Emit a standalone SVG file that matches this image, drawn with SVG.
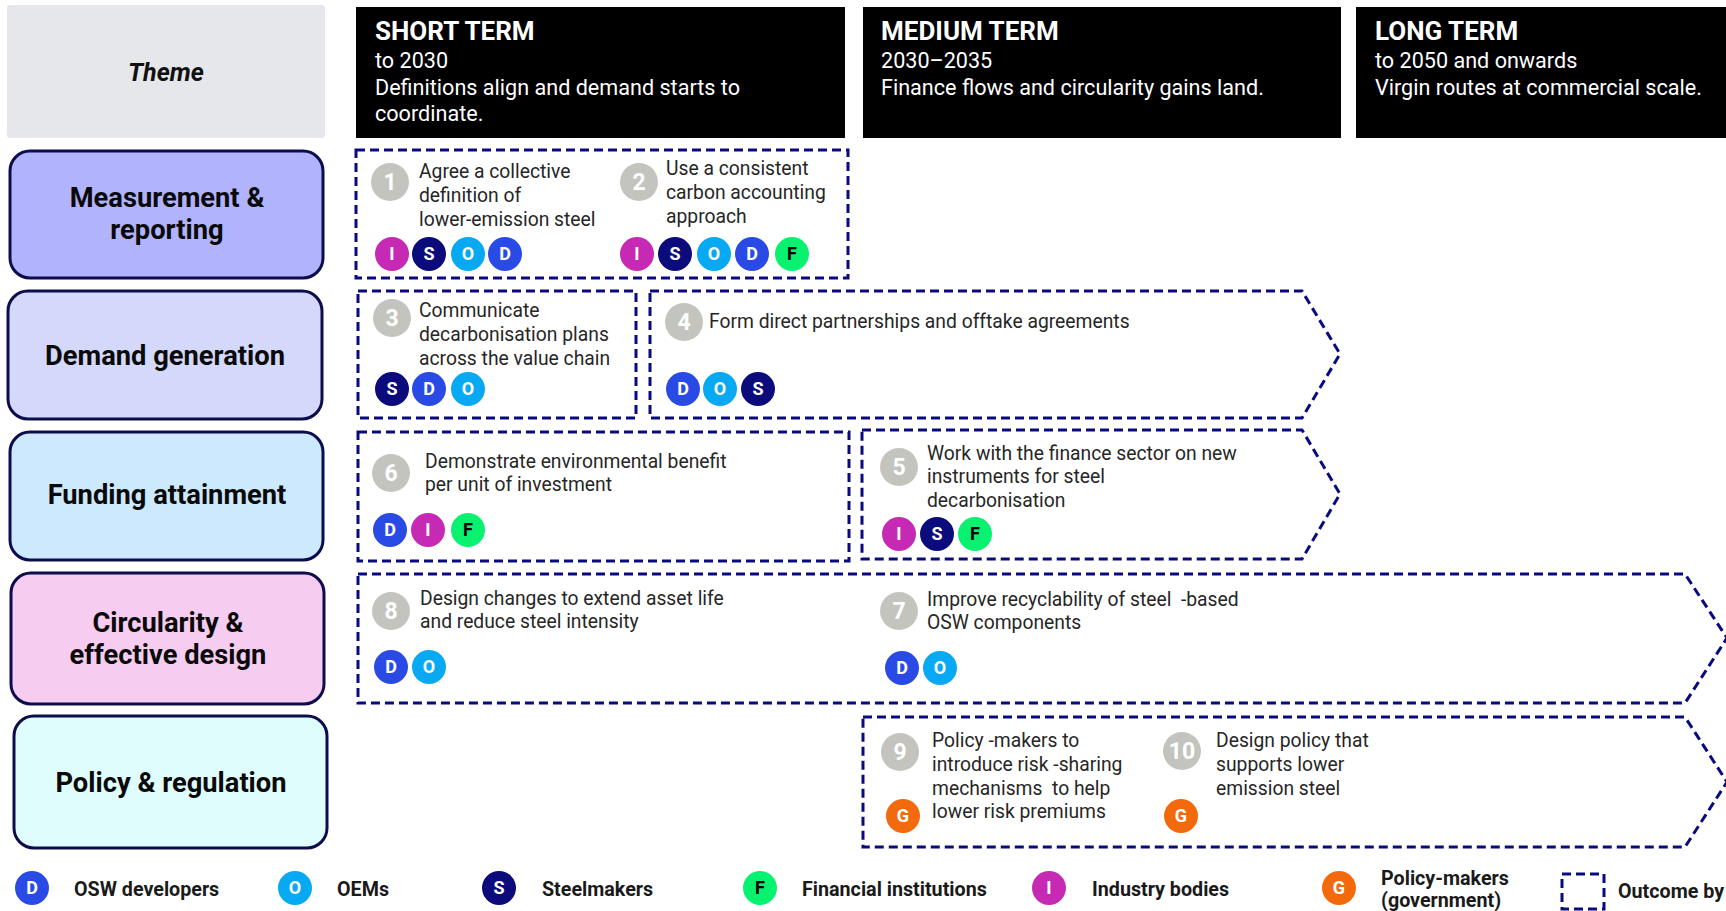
<svg xmlns="http://www.w3.org/2000/svg" width="1726" height="911" viewBox="0 0 1726 911">
<style>
text{font-family:Roboto,"Liberation Sans",sans-serif}
.hd{fill:#000}
.ht{fill:#fff;font-size:26px;font-weight:700}
.hs{fill:#fff;font-size:21.6px}
.row{stroke:#0d0d4d;stroke-width:3}
.rl{font-size:27.3px;font-weight:700;fill:#0a0a0a;text-anchor:middle}
.ob{fill:none;stroke:#0a0a80;stroke-width:3;stroke-dasharray:9 5}
.num{fill:#c4c4bf}
.nt{fill:#fff;font-size:23px;font-weight:700;text-anchor:middle}
.bt{font-size:19.3px;fill:#262626}
.bl{font-size:18px;font-weight:700;fill:#fff;text-anchor:middle}
.lg{font-size:19.7px;font-weight:700;fill:#1a1a1a}
.cI{fill:#c62ab4}.cS{fill:#0b0b7c}.cO{fill:#07a9f2}.cD{fill:#2a4ae6}.cF{fill:#08f270}.cG{fill:#f26a0c}
</style>
<rect width="1726" height="911" fill="#fff"/>

<g id="theme-header">
<rect x="7" y="5" width="318" height="133" rx="3" fill="#e6e7eb"/>
<text x="166" y="81" style="font-size:25px;font-weight:700;font-style:italic;text-anchor:middle;fill:#111">Theme</text>
</g>
<g id="short-term">
<rect class="hd" x="356" y="7" width="489" height="131"/>
<text class="ht" x="375" y="40">SHORT TERM</text>
<text class="hs" x="375" y="68">to 2030</text>
<text class="hs" x="375" y="95">Definitions align and demand starts to</text>
<text class="hs" x="375" y="121">coordinate.</text>
</g>
<g id="medium-term">
<rect class="hd" x="863" y="7" width="478" height="131"/>
<text class="ht" x="881" y="40">MEDIUM TERM</text>
<text class="hs" x="881" y="68">2030–2035</text>
<text class="hs" x="881" y="95">Finance flows and circularity gains land.</text>
</g>
<g id="long-term">
<rect class="hd" x="1356" y="7" width="376" height="131"/>
<text class="ht" x="1375" y="40">LONG TERM</text>
<text class="hs" x="1375" y="68">to 2050 and onwards</text>
<text class="hs" x="1375" y="95">Virgin routes at commercial scale.</text>
</g>

<g id="row-measurement">
<rect class="row" x="10" y="151" width="313" height="127" rx="20" fill="#b1b3fd"/>
<text class="rl" x="167" y="207">Measurement &amp;</text>
<text class="rl" x="167" y="239">reporting</text>
</g>
<g id="row-demand">
<rect class="row" x="8" y="291" width="314" height="128" rx="20" fill="#d4d8fb"/>
<text class="rl" x="165" y="365">Demand generation</text>
</g>
<g id="row-funding">
<rect class="row" x="10" y="432" width="313" height="128" rx="20" fill="#cce9fd"/>
<text class="rl" x="167" y="504">Funding attainment</text>
</g>
<g id="row-circularity">
<rect class="row" x="11" y="573" width="313" height="131" rx="20" fill="#f6cdf0"/>
<text class="rl" x="168" y="632">Circularity &amp;</text>
<text class="rl" x="168" y="664">effective design</text>
</g>
<g id="row-policy">
<rect class="row" x="14" y="716" width="313" height="132" rx="20" fill="#e0fdfd"/>
<text class="rl" x="171" y="792">Policy &amp; regulation</text>
</g>

<g id="outcome-1-2">
<rect class="ob" x="356" y="150" width="492" height="128"/>
<circle class="num" cx="390" cy="182" r="19"/><text class="nt" x="390" y="190">1</text>
<text class="bt" x="419" y="178">Agree a collective</text>
<text class="bt" x="419" y="202">definition of</text>
<text class="bt" x="419" y="226">lower-emission steel</text>
<circle class="cI" cx="392" cy="254" r="17"/><text class="bl" x="392" y="260">I</text>
<circle class="cS" cx="429" cy="254" r="17"/><text class="bl" x="429" y="260">S</text>
<circle class="cO" cx="468" cy="254" r="17"/><text class="bl" x="468" y="260">O</text>
<circle class="cD" cx="505" cy="254" r="17"/><text class="bl" x="505" y="260">D</text>
<circle class="num" cx="639" cy="182" r="19"/><text class="nt" x="639" y="190">2</text>
<text class="bt" x="666" y="175">Use a consistent</text>
<text class="bt" x="666" y="199">carbon accounting</text>
<text class="bt" x="666" y="223">approach</text>
<circle class="cI" cx="637" cy="254" r="17"/><text class="bl" x="637" y="260">I</text>
<circle class="cS" cx="675" cy="254" r="17"/><text class="bl" x="675" y="260">S</text>
<circle class="cO" cx="714" cy="254" r="17"/><text class="bl" x="714" y="260">O</text>
<circle class="cD" cx="752" cy="254" r="17"/><text class="bl" x="752" y="260">D</text>
<circle class="cF" cx="792" cy="254" r="17"/><text class="bl" x="792" y="260" style="fill:#000">F</text>
</g>

<g id="outcome-3">
<rect class="ob" x="358" y="291" width="278" height="127"/>
<circle class="num" cx="392" cy="318" r="19"/><text class="nt" x="392" y="326">3</text>
<text class="bt" x="419" y="317">Communicate</text>
<text class="bt" x="419" y="341">decarbonisation plans</text>
<text class="bt" x="419" y="365">across the value chain</text>
<circle class="cS" cx="392" cy="389" r="17"/><text class="bl" x="392" y="395">S</text>
<circle class="cD" cx="429" cy="389" r="17"/><text class="bl" x="429" y="395">D</text>
<circle class="cO" cx="468" cy="389" r="17"/><text class="bl" x="468" y="395">O</text>
</g>

<g id="outcome-4">
<path class="ob" d="M650,291 H1302 L1340,354 L1302,418 H650 Z"/>
<circle class="num" cx="684" cy="322" r="19"/><text class="nt" x="684" y="330">4</text>
<text class="bt" x="709" y="328">Form direct partnerships and offtake agreements</text>
<circle class="cD" cx="683" cy="389" r="17"/><text class="bl" x="683" y="395">D</text>
<circle class="cO" cx="720" cy="389" r="17"/><text class="bl" x="720" y="395">O</text>
<circle class="cS" cx="758" cy="389" r="17"/><text class="bl" x="758" y="395">S</text>
</g>

<g id="outcome-6">
<rect class="ob" x="358" y="432" width="491" height="129"/>
<circle class="num" cx="391" cy="473" r="19"/><text class="nt" x="391" y="481">6</text>
<text class="bt" x="425" y="468">Demonstrate environmental benefit</text>
<text class="bt" x="425" y="491">per unit of investment</text>
<circle class="cD" cx="390" cy="530" r="17"/><text class="bl" x="390" y="536">D</text>
<circle class="cI" cx="428" cy="530" r="17"/><text class="bl" x="428" y="536">I</text>
<circle class="cF" cx="468" cy="530" r="17"/><text class="bl" x="468" y="536" style="fill:#000">F</text>
</g>

<g id="outcome-5">
<path class="ob" d="M862,430 H1302 L1340,494 L1302,559 H862 Z"/>
<circle class="num" cx="899" cy="467" r="19"/><text class="nt" x="899" y="475">5</text>
<text class="bt" x="927" y="460">Work with the finance sector on new</text>
<text class="bt" x="927" y="483">instruments for steel</text>
<text class="bt" x="927" y="507">decarbonisation</text>
<circle class="cI" cx="899" cy="534" r="17"/><text class="bl" x="899" y="540">I</text>
<circle class="cS" cx="937" cy="534" r="17"/><text class="bl" x="937" y="540">S</text>
<circle class="cF" cx="975" cy="534" r="17"/><text class="bl" x="975" y="540" style="fill:#000">F</text>
</g>

<g id="outcome-8-7">
<path class="ob" d="M358,574 H1685 L1727,638 L1685,703 H358 Z"/>
<circle class="num" cx="391" cy="611" r="19"/><text class="nt" x="391" y="619">8</text>
<text class="bt" x="420" y="605">Design changes to extend asset life</text>
<text class="bt" x="420" y="628">and reduce steel intensity</text>
<circle class="cD" cx="391" cy="667" r="17"/><text class="bl" x="391" y="673">D</text>
<circle class="cO" cx="429" cy="667" r="17"/><text class="bl" x="429" y="673">O</text>
<circle class="num" cx="899" cy="611" r="19"/><text class="nt" x="899" y="619">7</text>
<text class="bt" x="927" y="606" style="white-space:pre">Improve recyclability of steel  -based</text>
<text class="bt" x="927" y="629">OSW components</text>
<circle class="cD" cx="902" cy="668" r="17"/><text class="bl" x="902" y="674">D</text>
<circle class="cO" cx="940" cy="668" r="17"/><text class="bl" x="940" y="674">O</text>
</g>

<g id="outcome-9-10">
<path class="ob" d="M863,717 H1685 L1727,782 L1685,847 H863 Z"/>
<circle class="num" cx="900" cy="752" r="19"/><text class="nt" x="900" y="760">9</text>
<text class="bt" x="932" y="747">Policy -makers to</text>
<text class="bt" x="932" y="771">introduce risk -sharing</text>
<text class="bt" x="932" y="795" style="white-space:pre">mechanisms  to help</text>
<text class="bt" x="932" y="818">lower risk premiums</text>
<circle class="cG" cx="903" cy="816" r="17"/><text class="bl" x="903" y="822">G</text>
<circle class="num" cx="1182" cy="751" r="19"/><text class="nt" x="1182" y="759">10</text>
<text class="bt" x="1216" y="747">Design policy that</text>
<text class="bt" x="1216" y="771">supports lower</text>
<text class="bt" x="1216" y="795">emission steel</text>
<circle class="cG" cx="1181" cy="816" r="17"/><text class="bl" x="1181" y="822">G</text>
</g>

<g id="legend">
<circle class="cD" cx="32" cy="888" r="17"/><text class="bl" x="32" y="894">D</text>
<text class="lg" x="74" y="896">OSW developers</text>
<circle class="cO" cx="295" cy="888" r="17"/><text class="bl" x="295" y="894">O</text>
<text class="lg" x="337" y="896">OEMs</text>
<circle class="cS" cx="499" cy="888" r="17"/><text class="bl" x="499" y="894">S</text>
<text class="lg" x="542" y="896">Steelmakers</text>
<circle class="cF" cx="760" cy="888" r="17"/><text class="bl" x="760" y="894" style="fill:#000">F</text>
<text class="lg" x="802" y="896">Financial institutions</text>
<circle class="cI" cx="1049" cy="888" r="17"/><text class="bl" x="1049" y="894">I</text>
<text class="lg" x="1092" y="896">Industry bodies</text>
<circle class="cG" cx="1339" cy="888" r="17"/><text class="bl" x="1339" y="894">G</text>
<text class="lg" x="1381" y="885">Policy-makers</text>
<text class="lg" x="1381" y="907">(government)</text>
<rect class="ob" x="1562" y="874" width="42" height="35"/>
<text class="lg" x="1618" y="898">Outcome by</text>
</g>
</svg>
